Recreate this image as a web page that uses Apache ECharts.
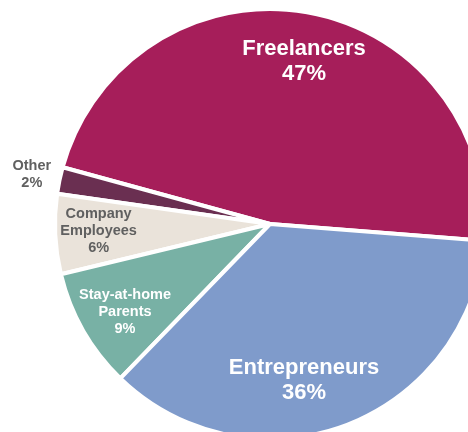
<!DOCTYPE html>
<html>
<head>
<meta charset="utf-8">
<script src="https://cdn.jsdelivr.net/npm/echarts@6/dist/echarts.min.js"></script>
<style>
  html, body { margin: 0; padding: 0; background: #fff; }
  #chart { width: 468px; height: 432px; }
</style>
</head>
<body>
<div id="chart"></div>
<script>
// Workforce segments and their shares (%)
const categories = ['Freelancers', 'Other', 'Company\nEmployees', 'Stay-at-home\nParents', 'Entrepreneurs'];
const shares = [47, 2, 6, 9, 36];
const sliceColors = ['#A61E5A', '#6A2F51', '#EAE3DA', '#78B1A5', '#7F9BCB'];

// Label styling per slice: big white labels on the large slices, small ones elsewhere
const labelColors = ['#ffffff', '#606060', '#606060', '#ffffff', '#ffffff'];
const labelSizes = [22, 14.5, 14.5, 14.5, 22];
const labelShift = [[15, -54], [-130, -27], [-61, 2], [-49, 33], [-5, 53]];

const chart = echarts.init(document.getElementById('chart'), null, { renderer: 'canvas' });

const data = categories.map((name, i) => ({
  name: name,
  value: shares[i],
  itemStyle: { color: sliceColors[i] },
  label: {
    color: labelColors[i],
    fontSize: labelSizes[i],
    lineHeight: labelSizes[i] > 16 ? 25 : 17
  }
}));

chart.setOption({
  animation: false,
  series: [{
    type: 'pie',
    center: [270, 224],
    radius: 215,
    startAngle: -4.5,
    clockwise: false,
    data: data,
    itemStyle: { borderColor: '#ffffff', borderWidth: 4 },
    label: {
      show: true,
      position: 'inside',
      fontFamily: 'Liberation Sans, Arial, sans-serif',
      fontWeight: 'bold',
      align: 'center',
      formatter: p => p.name + '\n' + p.value + '%'
    },
    labelLine: { show: false },
    labelLayout: p => ({ dx: labelShift[p.dataIndex][0], dy: labelShift[p.dataIndex][1] })
  }]
});
</script>
</body>
</html>
